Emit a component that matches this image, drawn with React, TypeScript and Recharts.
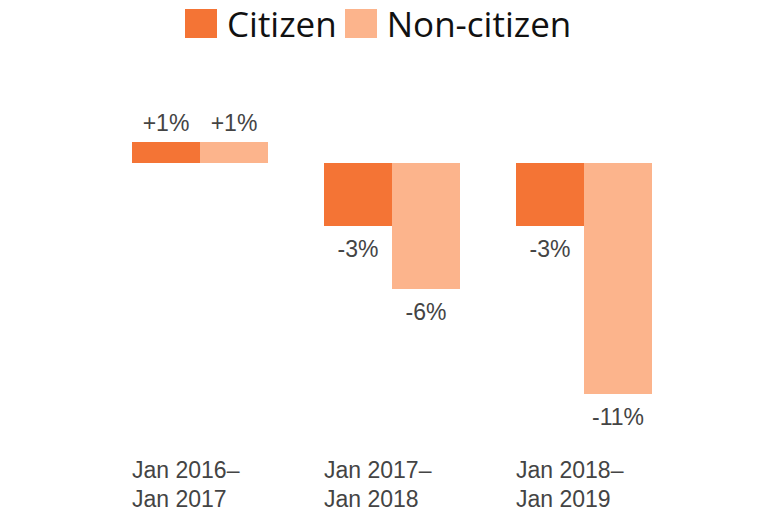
import React from 'react';
import { BarChart, Bar, XAxis, YAxis, LabelList } from 'recharts';

const periodStart = ['Jan 2016–', 'Jan 2017–', 'Jan 2018–'];
const periodEnd = ['Jan 2017', 'Jan 2018', 'Jan 2019'];
const citizenChange = [1, -3, -3];
const nonCitizenChange = [1, -6, -11];
const seriesNames = ['Citizen', 'Non-citizen'];
const seriesColors = ['#F47435', '#FCB48C'];

const data = periodStart.map((p, i) => ({
  period: i,
  start: p,
  end: periodEnd[i],
  citizen: citizenChange[i],
  nonCitizen: nonCitizenChange[i],
}));

const LABEL_FONT = '"Liberation Sans", Arial, sans-serif';

const fmt = (v: number) => (v > 0 ? `+${v}%` : `${v}%`);

const ValueLabel = (props: any) => {
  const { x, y, width, height, value } = props;
  const top = Math.min(y, y + height);
  const bottom = Math.max(y, y + height);
  const cx = x + width / 2;
  const ty = value >= 0 ? top - 11 : bottom + 31;
  return (
    <text x={cx} y={ty} textAnchor="middle" fontFamily={LABEL_FONT} fontSize={23} fill="#444444">
      {fmt(value)}
    </text>
  );
};

const PeriodTick = (props: any) => {
  const { x, y, payload } = props;
  const i = payload.value as number;
  return (
    <text x={x - 68} y={y} textAnchor="start" fontFamily={LABEL_FONT} fontSize={23} fill="#444444">
      <tspan x={x - 68} dy={55}>{periodStart[i]}</tspan>
      <tspan x={x - 68} dy={29}>{periodEnd[i]}</tspan>
    </text>
  );
};

export default function App() {
  return (
    <div style={{ position: 'absolute', left: 0, top: 0, width: 768, height: 512, background: '#fff' }}>
      <div
        style={{
          position: 'absolute',
          left: 185,
          top: 0,
          display: 'flex',
          alignItems: 'center',
          fontFamily: '"Open Sans", sans-serif',
          fontSize: 35,
          color: '#111',
          height: 47,
        }}
      >
        {seriesNames.map((n, i) => (
          <div key={n} style={{ display: 'flex', alignItems: 'center', marginRight: 8 }}>
            <div style={{ width: 32, height: 29, background: seriesColors[i], marginRight: 10 }} />
            <span style={{ lineHeight: '35px' }}>{n}</span>
          </div>
        ))}
      </div>
      <BarChart
        width={768}
        height={512}
        data={data}
        margin={{ top: 121, right: 88, bottom: 0, left: 104 }}
        barGap={0}
      >
        <YAxis hide domain={[-12, 2]} type="number" allowDataOverflow />
        <XAxis
          dataKey="period"
          axisLine={false}
          tickLine={false}
          height={97}
          interval={0}
          tick={<PeriodTick />}
        />
        <Bar dataKey="citizen" name={seriesNames[0]} fill={seriesColors[0]} barSize={68} isAnimationActive={false}>
          <LabelList dataKey="citizen" content={<ValueLabel />} />
        </Bar>
        <Bar dataKey="nonCitizen" name={seriesNames[1]} fill={seriesColors[1]} barSize={68} isAnimationActive={false}>
          <LabelList dataKey="nonCitizen" content={<ValueLabel />} />
        </Bar>
      </BarChart>
    </div>
  );
}
